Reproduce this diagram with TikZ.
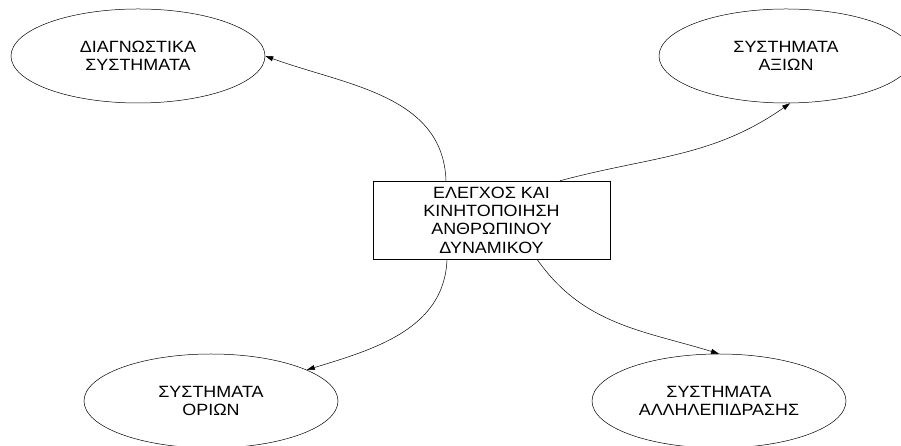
\documentclass[tikz,border=0pt]{standalone}
\usepackage{fontspec}
\setmainfont{Liberation Sans}[FakeStretch=1.1]
\usetikzlibrary{shapes.geometric,arrows.meta}
\tikzset{
	txt/.style={align=center, font=\fontsize{16.3}{18.3}\selectfont},
	sysnode/.style={draw, ellipse, txt, minimum width=254pt, minimum height=94pt, inner sep=0pt},
	ctrlnode/.style={draw, txt, minimum width=237pt, minimum height=78pt, inner sep=0pt}
}

\begin{document}
\begin{tikzpicture}[x=1pt, y=1pt, line width=0.5pt, >={Triangle[length=8pt,width=5pt]}]
		\useasboundingbox (0,0) rectangle (901,446);
		% Center
		\node[ctrlnode] (Control) at (491.5,226) {ΕΛΕΓΧΟΣ ΚΑΙ\\ΚΙΝΗΤΟΠΟΙΗΣΗ\\ΑΝΘΡΩΠΙΝΟΥ\\ΔΥΝΑΜΙΚΟΥ} ;
		% Top
		\node[sysnode] (Diagnostic) at (138,390) {ΔΙΑΓΝΩΣΤΙΚΑ\\ΣΥΣΤΗΜΑΤΑ} ;
		\node[sysnode] (Values) at (786,390) {ΣΥΣΤΗΜΑΤΑ\\ΑΞΙΩΝ} ;
		% Bottom
		\node[sysnode] (Limits) at (211,45) {ΣΥΣΤΗΜΑΤΑ\\ΟΡΙΩΝ} ;
		\node[sysnode] (Interaction) at (719,45) {ΣΥΣΤΗΜΑΤΑ\\ΑΛΛΗΛΕΠΙΔΡΑΣΗΣ} ;
		\draw[->] ([xshift=-45.5pt]Control.north) to[out=92, in=-20] (Diagnostic.east) ;
		\draw[->] ([xshift=68.5pt]Control.north) to[out=15, in=-145] (Values.-85) ;
		\draw[->] ([xshift=-44.5pt]Control.south) to[out=-92, in=17] (Limits.18) ;
		\draw[->] ([xshift=45.5pt]Control.south) to[out=-55, in=163] (Interaction.north) ;
	\end{tikzpicture}
\end{document}
